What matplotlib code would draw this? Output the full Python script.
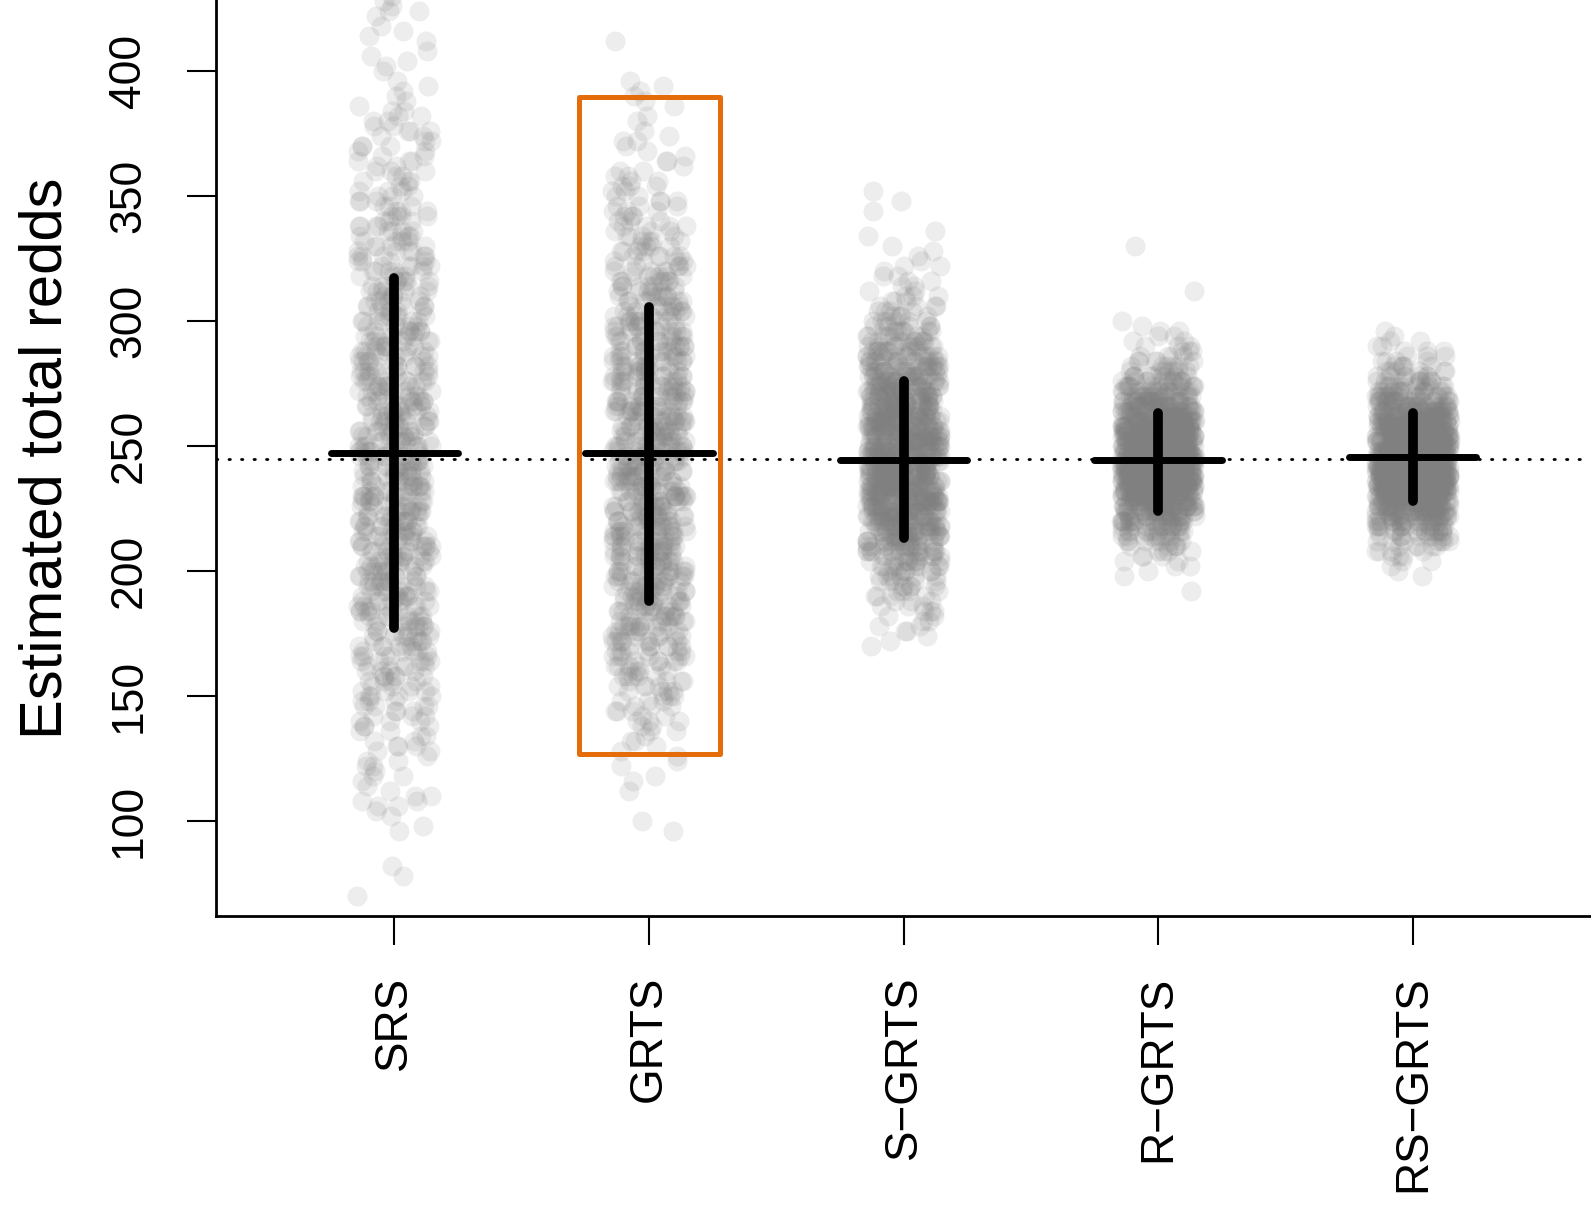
import numpy as np
import matplotlib
matplotlib.use("Agg")
import matplotlib.pyplot as plt
from matplotlib.patches import Rectangle

# ---------------------------------------------------------------------------
# Data: simulated estimates of total redds for each sampling design.
# Estimates are tallied in 2-redd classes: counts[k] estimates at start + 2*k.
# ---------------------------------------------------------------------------
designs = ["SRS", "GRTS", "S\u2212GRTS", "R\u2212GRTS", "RS\u2212GRTS"]
bin_width = 2

srs_start = 70
srs_counts = [1, 0, 0, 0, 1, 0, 1, 0, 0, 0, 0, 0, 0, 1, 1,
              0, 1, 1, 2, 2, 2, 1, 1, 1, 2,
              1, 2, 2, 1, 2, 3, 2, 2, 2, 3,
              3, 3, 3, 4, 3, 4, 4, 4, 4, 5,
              4, 5, 5, 5, 5, 6, 5, 6, 5, 6,
              6, 6, 6, 7, 7, 6, 7, 7, 7, 6, 7, 7, 8, 7, 7, 8, 7, 7, 8, 7,
              8, 7, 8, 7, 8, 8, 7, 8, 7, 8, 7, 8, 8, 7, 8, 7, 8, 7, 8, 7,
              7, 7, 8, 7, 7, 7, 6, 7, 7, 6, 7, 6, 6, 7, 6, 6, 6, 6, 6, 5,
              6, 5, 5, 6, 5, 5, 5, 5, 5, 4,
              5, 5, 4, 5, 4, 4, 4, 4, 4, 4, 3, 4, 3, 3, 3, 3, 3, 2, 3, 2,
              3, 2, 3, 2, 2, 3, 2, 2, 3, 2, 2, 2, 2, 1, 1, 1, 1, 1, 1, 0,
              1, 1, 1, 1, 1, 0, 1, 1, 1, 1, 0, 1, 2, 1, 1, 1]

grts_start = 96
grts_counts = [1, 0, 1, 0, 0, 0, 0, 0, 1, 0, 1, 1, 0, 1, 1, 1, 1, 1,
               2, 1, 2, 2, 3, 2, 3, 3, 3, 3, 4, 4, 4, 5, 4, 5, 5, 6, 6, 6, 7, 7, 7, 8,
               8, 7, 8, 8, 9, 8, 9, 8, 9, 9, 9, 8, 9, 9, 10, 9, 9, 10, 9, 10,
               9, 10, 9, 9, 10, 9, 10, 9, 10, 9, 10, 9, 9, 10, 9, 10, 9, 9, 10, 9,
               9, 9, 10, 9, 9, 9, 8, 9, 9, 8, 9, 8, 8, 8, 8,
               8, 7, 8, 7, 7, 7, 7, 7, 6, 6, 7, 6, 6, 6, 6,
               5, 5, 4, 5, 4, 4, 4, 4, 3, 4, 3, 3, 3, 3, 3, 2, 2, 3, 2, 2, 2,
               1, 2, 1, 1, 1, 2, 1, 1, 0, 1, 1, 0, 1, 1, 1, 1, 1, 1, 0, 0, 0, 0, 0, 0, 0, 1]

sgrts_start = 170
sgrts_counts = [1, 1, 1, 2, 2, 2, 2, 3, 3, 3, 4, 4, 5, 5, 6,
                7, 8, 9, 10, 12, 13, 15, 16, 18, 19, 20, 21, 22, 23, 24,
                25, 25, 25, 25, 26, 25, 26, 25, 25, 25, 25, 24, 24, 24, 23,
                23, 22, 21, 21, 20, 19, 19, 18, 17, 16, 15, 14, 13, 12, 11,
                10, 9, 8, 7, 6, 6, 5, 4, 4, 3, 3, 2, 2, 2, 2, 1,
                2, 1, 1, 1, 1, 0, 1, 1, 0, 0, 0, 1, 0, 1, 0, 1]

rgrts_start = 192
rgrts_counts = [1, 0, 0, 1, 1, 2, 2, 3, 4, 5, 7, 9, 11, 14, 17,
                20, 23, 26, 29, 32, 35, 37, 39, 40, 41, 42, 42, 41, 41, 40,
                39, 37, 35, 33, 31, 28, 26, 23, 20, 18, 15, 13, 11, 9, 7,
                6, 5, 4, 3, 3, 2, 2, 2, 1, 1, 0, 0, 0, 0, 0,
                1, 0, 0, 0, 0, 0, 0, 0, 0, 1]

rsgrts_start = 198
rsgrts_counts = [1, 1, 1, 2, 3, 4, 5, 7, 9, 12, 15, 18, 22, 26, 29,
                 32, 35, 38, 41, 43, 44, 45, 46, 46, 46, 45, 44, 43, 41, 38,
                 35, 32, 29, 26, 22, 19, 16, 13, 11, 9, 7, 6, 5, 4, 3,
                 3, 2, 2, 1, 1]

# Mean estimate and lower / upper ends of the spread bar for each design
means = [247.1, 247.2, 244.6, 244.3, 245.6]
bar_low = [177.3, 188.2, 213.2, 223.9, 227.9]
bar_high = [317.2, 305.7, 275.9, 263.3, 263.3]

# True number of redds
true_total = 245

starts = [srs_start, grts_start, sgrts_start, rgrts_start, rsgrts_start]
counts = [srs_counts, grts_counts, sgrts_counts, rgrts_counts, rsgrts_counts]

# ---------------------------------------------------------------------------
plt.rcParams["font.family"] = ["Liberation Sans", "DejaVu Sans"]

fig = plt.figure(figsize=(15.91, 12.10), dpi=100)
ax = fig.add_axes([0.1358, 0.2430, 0.8642, 0.7570])

golden = (np.sqrt(5.0) - 1.0) / 2.0
jitter_amount = 0.145
offset = 0
for i, (start, cnt) in enumerate(zip(starts, counts)):
    cnt = np.asarray(cnt)
    values = np.repeat(start + bin_width * np.arange(len(cnt)), cnt)
    idx = np.arange(len(values)) + offset
    offset += len(values)
    u = np.mod(idx.astype(float) ** 2 * golden, 1.0)
    x = (i + 1) + (u - 0.5) * 2 * jitter_amount
    ax.scatter(x, values, s=207, color=(0.5, 0.5, 0.5), alpha=0.14,
               linewidths=0, zorder=1)

ax.axhline(true_total, color="black", lw=2, linestyle=(0, (0.5, 4)),
           dash_capstyle="round", zorder=2)

for i in range(len(designs)):
    xc = i + 1
    ax.plot([xc, xc], [bar_low[i], bar_high[i]], color="black", lw=7,
            solid_capstyle="round", zorder=3)
    ax.plot([xc - 0.25, xc + 0.25], [means[i], means[i]], color="black", lw=5,
            solid_capstyle="round", zorder=3)

# Highlight box around the GRTS design
ax.add_patch(Rectangle((1.725, 126.9), 0.554, 262.6, fill=False,
                       edgecolor="#E46C0A", lw=3.6, joinstyle="round", zorder=4))

ax.set_xlim(0.3, 5.7)
ax.set_ylim(62.1, 428.5)

for side in ("top", "right"):
    ax.spines[side].set_visible(False)
for side in ("left", "bottom"):
    ax.spines[side].set_linewidth(2)

ax.set_xticks(range(1, len(designs) + 1))
ax.set_xticklabels(designs)
ax.set_yticks([100, 150, 200, 250, 300, 350, 400])
ax.tick_params(axis="x", length=21, width=1.5, pad=22, labelsize=33,
               labelrotation=90)
ax.tick_params(axis="y", length=21, width=1.5, pad=27, labelsize=32,
               labelrotation=90)
for lab in ax.get_yticklabels():
    lab.set_verticalalignment("center")

ax.set_ylabel("Estimated total redds", fontsize=43)
ax.yaxis.set_label_coords(-0.104, 0.5)

fig.savefig("out.png", dpi=100)
